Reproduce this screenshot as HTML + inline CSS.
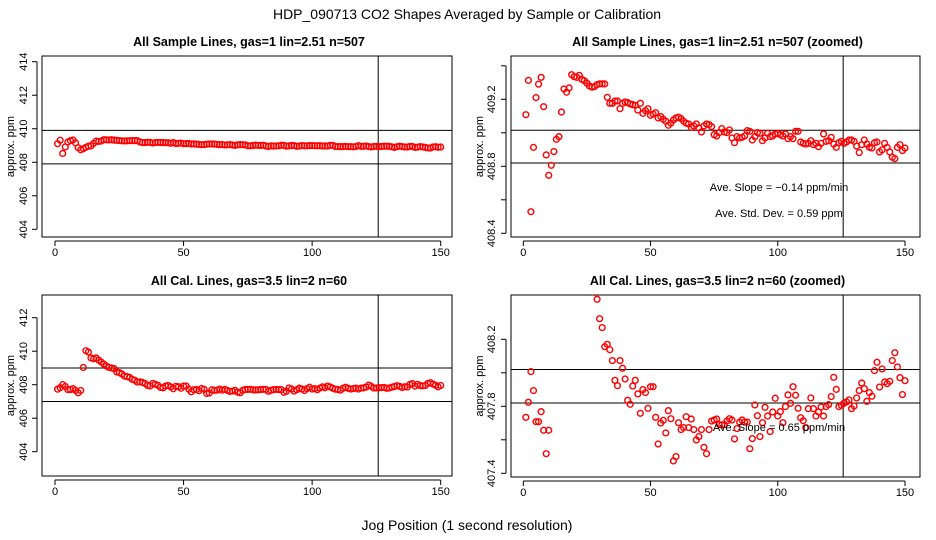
<!DOCTYPE html>
<html><head><meta charset="utf-8"><style>
html,body{margin:0;padding:0;background:#fff}
svg{display:block;font-family:"Liberation Sans",sans-serif}
</style></head><body>
<svg id="chart" width="936" height="540" viewBox="0 0 936 540" xmlns="http://www.w3.org/2000/svg">
<rect width="936" height="540" fill="#fff"/>
<text x="467" y="19" font-size="14" text-anchor="middle">HDP_090713  CO2 Shapes Averaged by Sample or Calibration</text>
<text x="467" y="530" font-size="14" text-anchor="middle">Jog Position (1 second resolution)</text>
</svg>
<script>
const positions = Array.from({length:150},(_,i)=>i+1);
const sampleValues = [409.108,409.313,408.529,408.913,409.210,409.290,409.331,409.156,408.868,408.746,
408.806,408.888,408.961,408.977,409.124,409.262,409.242,409.268,409.347,409.335,
409.331,409.343,409.319,409.311,409.296,409.280,409.272,409.276,409.288,409.292,
409.292,409.292,409.212,409.176,409.176,409.190,409.190,409.144,409.176,409.184,
409.180,409.172,409.168,409.164,409.136,409.176,409.116,409.132,409.144,409.104,
409.112,409.120,409.089,409.097,409.081,409.069,409.045,409.057,409.077,409.089,
409.093,409.085,409.069,409.057,409.053,409.033,409.041,409.053,409.029,409.005,
409.041,409.053,409.049,409.037,408.989,408.981,409.001,409.025,409.005,409.001,
409.017,408.969,408.941,408.977,408.969,408.973,408.981,409.013,409.009,408.957,
408.977,409.001,408.997,408.953,408.969,408.997,408.977,408.981,408.993,408.997,
408.989,408.981,408.993,408.965,408.977,408.965,409.009,409.009,408.945,408.937,
408.933,408.937,408.953,408.929,408.937,408.917,408.937,408.993,408.949,408.953,
408.973,408.933,408.913,408.941,408.949,408.937,408.945,408.957,408.957,408.949,
408.921,408.882,408.929,408.957,408.933,408.913,408.909,408.941,408.945,408.886,
408.898,408.937,408.913,408.886,408.854,408.846,408.913,408.929,408.894,408.909];
const calValues = [407.734,407.824,408.007,407.894,407.708,407.708,407.768,407.657,407.517,407.657,
409.03,410.03,409.95,409.60,409.55,409.60,409.47,409.35,409.23,409.11,
409.03,409.00,408.96,408.76,408.72,408.64,408.52,408.48,408.439,408.323,
408.270,408.156,408.170,408.138,408.073,407.955,407.923,408.073,408.027,407.963,
407.836,407.812,407.921,407.955,407.874,407.758,407.900,407.882,407.788,407.917,
407.917,407.734,407.575,407.700,407.716,407.641,407.774,407.726,407.474,407.500,
407.702,407.661,407.673,407.738,407.673,407.724,407.661,407.599,407.619,407.661,
407.555,407.517,407.661,407.712,407.718,407.724,407.691,407.689,407.691,407.712,
407.726,407.718,407.605,407.667,407.706,407.718,407.706,407.706,407.547,407.607,
407.808,407.744,407.619,407.702,407.794,407.742,407.649,407.766,407.848,407.742,
407.768,407.702,407.798,407.868,407.818,407.917,407.866,407.788,407.732,407.714,
407.673,407.786,407.850,407.786,407.742,407.766,407.796,407.742,407.798,407.810,
407.858,407.973,407.901,407.798,407.806,407.818,407.826,407.838,407.786,407.802,
407.850,407.894,407.939,407.905,407.830,407.882,407.860,408.013,408.063,407.915,
408.023,407.945,407.935,407.949,408.073,408.120,408.035,407.971,407.870,407.953];
const xTicks = [0,50,100,150];
const sampleBands = [409.9,407.9];
const sampleBandsZoom = [409.015,408.82];
const calBands = [409.0,407.0];
const calBandsZoom = [408.02,407.82];
const markerX = [125.7];
const wideTicksTop = [404,406,408,410,412,414];
const wideTicksBottom = [404,406,408,410,412];
const zoomTicksTop = [408.4,408.6,408.8,409.0,409.2,409.4];
const zoomLabelsTop = [408.4,408.8,409.2];
const zoomTicksBottom = [407.4,407.6,407.8,408.0,408.2];
const zoomLabelsBottom = [407.4,407.8,408.2];

const NS="http://www.w3.org/2000/svg";
const svg=document.getElementById('chart');
function mk(tag,attrs,parent){const e=document.createElementNS(NS,tag);for(const k in attrs)e.setAttribute(k,attrs[k]);(parent||svg).appendChild(e);return e;}

const panels=[
 {id:'sample-wide',title:'All Sample Lines, gas=1 lin=2.51 n=507',box:[42,56,452,237],x0:55,x150:440.7,yref:414,ypx:61.7,ppx:16.76,vals:sampleValues,bands:sampleBands,ticks:wideTicksTop,labels:wideTicksTop,lab:27,ytitle:10,fmt:0},
 {id:'sample-zoom',title:'All Sample Lines, gas=1 lin=2.51 n=507 (zoomed)',box:[511,56,920,237],x0:523.3,x150:905,yref:409.2,ypx:99.3,ppx:167.5,vals:sampleValues,bands:sampleBandsZoom,ticks:zoomTicksTop,labels:zoomLabelsTop,lab:495,ytitle:479,fmt:1,
  notes:[['Ave. Slope =  \u22120.14  ppm/min',779,191],['Ave. Std. Dev. =  0.59  ppm',779,217]]},
 {id:'cal-wide',title:'All Cal. Lines, gas=3.5 lin=2 n=60',box:[42,295,452,476],x0:55,x150:440.7,yref:412,ypx:317.7,ppx:16.75,vals:calValues,bands:calBands,ticks:wideTicksBottom,labels:wideTicksBottom,lab:27,ytitle:10,fmt:0},
 {id:'cal-zoom',title:'All Cal. Lines, gas=3.5 lin=2 n=60 (zoomed)',box:[511,295,920,477],x0:523.3,x150:905,yref:408.2,ypx:339.3,ppx:167.5,vals:calValues,bands:calBandsZoom,ticks:zoomTicksBottom,labels:zoomLabelsBottom,lab:495,ytitle:479,fmt:1,
  notes:[['Ave. Slope =  0.65  ppm/min',779,431]]}
];

panels.forEach((p,pi)=>{
 const [l,t,r,b]=p.box;
 const X=v=>p.x0+(p.x150-p.x0)*v/150;
 const Y=v=>p.ypx+(p.yref-v)*p.ppx;
 const g=mk('g',{});
 
 
 const cp=mk('clipPath',{id:'clip'+pi},g);mk('rect',{x:l,y:t,width:r-l,height:b-t},cp);
 const tt=mk('text',{x:(l+r)/2+2,y:t-10,'font-size':12.5,'font-weight':'bold','text-anchor':'middle'},g);tt.textContent=p.title;
 
 
 const xa=mk('g',{},g);
 
 
 mk('line',{x1:X(xTicks[0]),x2:X(xTicks[xTicks.length-1]),y1:b+4,y2:b+4,stroke:'#000'},xa);
 xTicks.forEach(v=>{mk('line',{x1:X(v),x2:X(v),y1:b+4,y2:b+9,stroke:'#000'},xa);
  const tx=mk('text',{x:X(v),y:b+19,'font-size':11,'text-anchor':'middle'},xa);tx.textContent=v;
  
  });
 const ya=mk('g',{},g);
 
 
 mk('line',{x1:l-5,x2:l-5,y1:Y(p.ticks[0]),y2:Y(p.ticks[p.ticks.length-1]),stroke:'#000'},ya);
 p.ticks.forEach(v=>mk('line',{x1:l-10,x2:l-5,y1:Y(v),y2:Y(v),stroke:'#000'},ya));
 p.labels.forEach(v=>{const tx=mk('text',{x:0,y:0,'font-size':11,'text-anchor':'middle',transform:`translate(${p.lab},${Y(v)}) rotate(-90)`},ya);tx.textContent=v.toFixed(p.fmt);
  
  });
 const yt=mk('text',{x:0,y:0,'font-size':11,'text-anchor':'middle',transform:`translate(${p.ytitle+4},${(t+b)/2}) rotate(-90)`},g);yt.textContent='approx. ppm';
 
 
 mk('rect',{x:l,y:t,width:r-l,height:b-t,fill:'none',stroke:'#000'},g);
 p.bands.forEach(v=>{const ln=mk('line',{x1:l,x2:r,y1:Y(v),y2:Y(v),stroke:'#000'},g);
  
  });
 markerX.forEach(v=>{const ln=mk('line',{x1:X(v),x2:X(v),y1:t,y2:b,stroke:'#000'},g);
  
  });
 const pts=mk('g',{'clip-path':`url(#clip${pi})`},g);
 
 
 p.vals.forEach((v,i)=>{const c=mk('circle',{cx:X(positions[i]),cy:Y(v),r:2.9,fill:'none',stroke:'#f00','stroke-width':1.4},pts);
  
  });
 (p.notes||[]).forEach(n=>{const tx=mk('text',{x:n[1],y:n[2],'font-size':11,'text-anchor':'middle'},g);tx.textContent=n[0];
  
  });
});
</script>
</body></html>
